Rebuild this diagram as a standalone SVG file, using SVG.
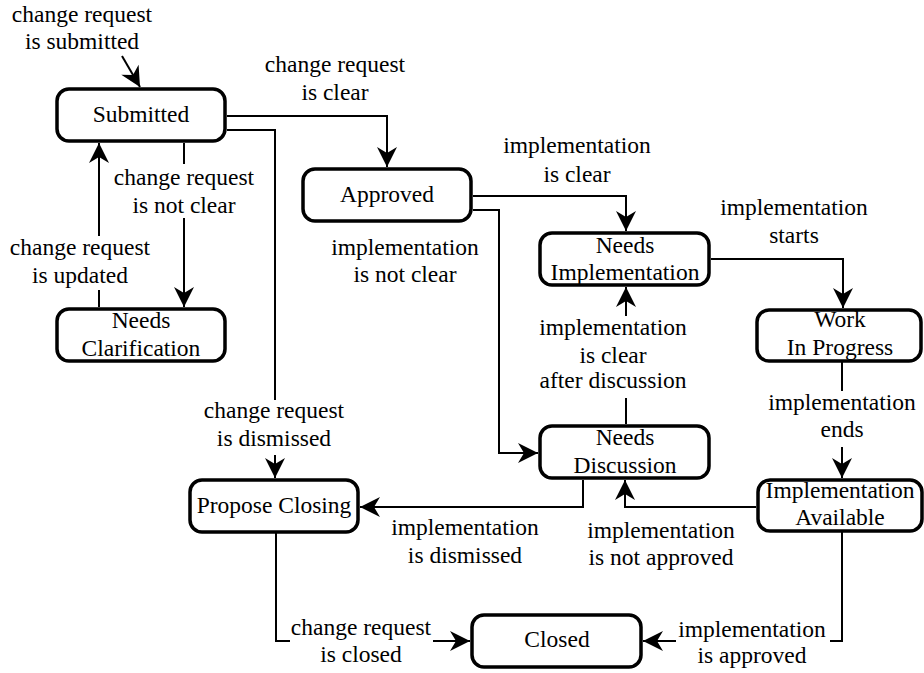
<svg xmlns="http://www.w3.org/2000/svg" width="924" height="673" viewBox="0 0 924 673">
<defs>
<style>
.node rect{fill:#fff;stroke:#000;stroke-width:3.5}
text{font-family:"Liberation Serif","Times New Roman",serif;font-size:23.5px;fill:#000;text-anchor:middle}
.edge{fill:none;stroke:#000;stroke-width:2;marker-end:url(#arr)}
.bg{fill:#fff}
</style>
<marker id="arr" markerUnits="userSpaceOnUse" markerWidth="20" markerHeight="20" refX="20" refY="10" orient="auto" overflow="visible">
<path d="M0,0 L20,10 L0,20 L6,10 z" fill="#000"/>
</marker>
</defs>
<rect width="924" height="673" fill="#fff"/>
<g id="connectors">
<path class="edge" d="M122,56 L140,87"/>
<path class="edge" d="M227,116 H387 V167"/>
<path class="edge" d="M227,130 H275 V478"/>
<path class="edge" d="M184,143 V307"/>
<path class="edge" d="M99,307 V143"/>
<path class="edge" d="M473,196 H626 V231"/>
<path class="edge" d="M473,210 H499 V453 H538"/>
<path class="edge" d="M711,259 H843 V308"/>
<path class="edge" d="M626,424 V287"/>
<path class="edge" d="M842,362 V478"/>
<path class="edge" d="M756,507 H625 V480"/>
<path class="edge" d="M583,480 V507 H360"/>
<path class="edge" d="M276,533 V641 H470"/>
<path class="edge" d="M842,532 V641 H643"/>
</g>
<g id="labels">
<text x="82" y="22">change request</text><text x="82" y="49">is submitted</text>
<text x="335" y="72">change request</text><text x="335" y="100">is clear</text>
<rect class="bg" x="112" y="164" width="144" height="54"/>
<text x="184" y="185">change request</text><text x="184" y="213">is not clear</text>
<rect class="bg" x="8" y="236" width="144" height="54"/>
<text x="80" y="255">change request</text><text x="80" y="283">is updated</text>
<rect class="bg" x="202" y="400" width="146" height="55"/>
<text x="274" y="418">change request</text><text x="274" y="446">is dismissed</text>
<text x="577" y="153">implementation</text><text x="577" y="182">is clear</text>
<text x="405" y="255">implementation</text><text x="405" y="282">is not clear</text>
<text x="794" y="215">implementation</text><text x="794" y="243">starts</text>
<rect class="bg" x="531" y="316" width="166" height="82"/>
<text x="613" y="335">implementation</text><text x="613" y="363">is clear</text><text x="613" y="388">after discussion</text>
<rect class="bg" x="766" y="391" width="152" height="56"/>
<text x="842" y="410">implementation</text><text x="842" y="437">ends</text>
<text x="661" y="538">implementation</text><text x="661" y="565">is not approved</text>
<text x="465" y="535">implementation</text><text x="465" y="563">is dismissed</text>
<rect class="bg" x="290" y="613" width="143" height="55"/>
<text x="361" y="635">change request</text><text x="361" y="662">is closed</text>
<rect class="bg" x="676" y="614" width="154" height="55"/>
<text x="752" y="637">implementation</text><text x="752" y="663">is approved</text>
</g>
<g id="submitted" class="node"><rect x="57" y="89" width="168" height="52" rx="12"/><text x="141" y="122">Submitted</text></g>
<g id="approved" class="node"><rect x="303" y="169" width="168" height="52" rx="12"/><text x="387" y="202">Approved</text></g>
<g id="needs-implementation" class="node"><rect x="540" y="233" width="169" height="52" rx="12"/><text x="625" y="253">Needs</text><text x="625" y="280">Implementation</text></g>
<g id="work-in-progress" class="node"><rect x="757" y="310" width="164" height="51" rx="12"/><text x="840" y="327">Work</text><text x="840" y="355">In Progress</text></g>
<g id="needs-clarification" class="node"><rect x="57" y="309" width="168" height="52" rx="12"/><text x="141" y="328">Needs</text><text x="141" y="356">Clarification</text></g>
<g id="needs-discussion" class="node"><rect x="540" y="426" width="169" height="52" rx="12"/><text x="625" y="445">Needs</text><text x="625" y="473">Discussion</text></g>
<g id="implementation-available" class="node"><rect x="758" y="480" width="164" height="51" rx="12"/><text x="840" y="498">Implementation</text><text x="840" y="525">Available</text></g>
<g id="propose-closing" class="node"><rect x="190" y="480" width="168" height="52" rx="12"/><text x="274" y="513">Propose Closing</text></g>
<g id="closed" class="node"><rect x="472" y="615" width="169" height="52" rx="12"/><text x="557" y="647">Closed</text></g>
</svg>
